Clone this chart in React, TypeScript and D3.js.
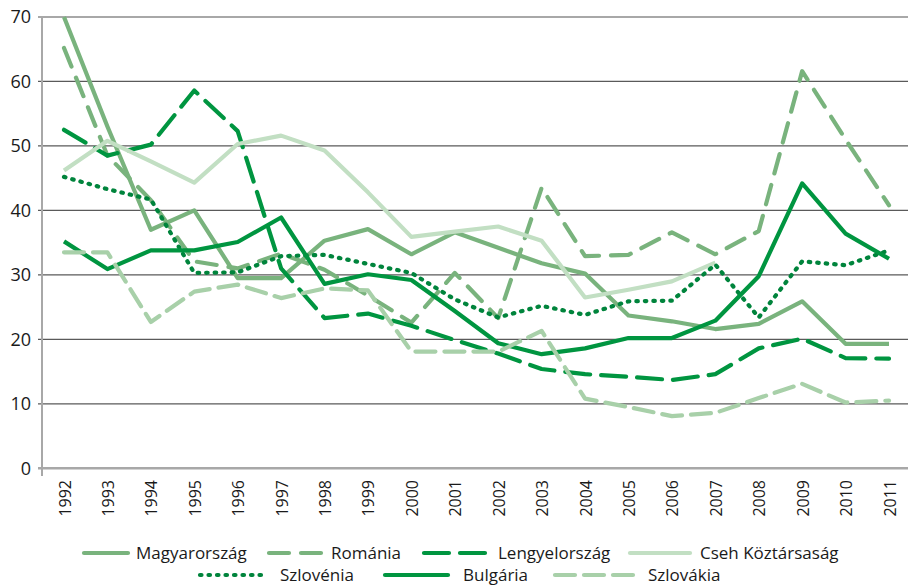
import React from "react";
import * as d3 from "d3";

// évek
const years = [
  "1992", "1993", "1994", "1995", "1996", "1997", "1998", "1999", "2000", "2001",
  "2002", "2003", "2004", "2005", "2006", "2007", "2008", "2009", "2010", "2011",
];

const magyarorszag = [70, 53, 37, 40, 29.5, 29.5, 35.3, 37.1, 33.2, 36.6, 34.2, 31.8, 30.2, 23.7, 22.8, 21.6, 22.4, 25.9, 19.3, 19.3];
const romania = [65.2, 48.5, 41.6, 32.1, 31, 33.3, 30.8, 26.8, 22.6, 30.3, 23.3, 43.5, 32.9, 33.1, 36.6, 33.2, 36.8, 61.6, 51, 40.8];
const lengyelorszag = [52.5, 48.5, 50.2, 58.6, 52.3, 31, 23.3, 24, 22.1, 19.9, 17.8, 15.4, 14.6, 14.2, 13.7, 14.6, 18.6, 20.1, 17.1, 17];
const cseh = [46.2, 50.8, 47.6, 44.3, 50.3, 51.6, 49.3, 42.8, 35.9, 36.7, 37.5, 35.3, 26.5, 27.7, 29, 31.9, null, null, null, null];
const szlovenia = [45.2, 43.3, 41.7, 30.3, 30.4, 32.9, 33.1, 31.7, 30.3, 26.2, 23.4, 25.2, 23.8, 25.9, 26, 31.6, 23.4, 32.1, 31.5, 33.8];
const bulgaria = [35.2, 30.9, 33.8, 33.8, 35.1, 38.9, 28.6, 30.1, 29.2, 24.4, 19.4, 17.7, 18.6, 20.2, 20.2, 22.9, 29.8, 44.2, 36.4, 32.5];
const szlovakia = [33.5, 33.5, 22.7, 27.4, 28.5, 26.4, 27.9, 27.6, 18.1, 18.1, 18.1, 21.3, 10.8, 9.5, 8.1, 8.6, 10.9, 13.1, 10.2, 10.5];

const yTicks = [0, 10, 20, 30, 40, 50, 60, 70];

const series = [
  { name: "Magyarország", values: magyarorszag, color: "#79b37d", dash: "none", cap: "butt", row: 0, lx: 84, lw: 44, tx: 136 },
  { name: "Románia", values: romania, color: "#79b37d", dash: "20 12", cap: "round", row: 0, lx: 269, lw: 54, tx: 331 },
  { name: "Lengyelország", values: lengyelorszag, color: "#009540", dash: "25 11", cap: "round", row: 0, lx: 424, lw: 66, tx: 498 },
  { name: "Cseh Köztársaság", values: cseh, color: "#c2dfc3", dash: "none", cap: "butt", row: 0, lx: 630, lw: 60, tx: 700 },
  { name: "Szlovénia", values: szlovenia, color: "#00843c", dash: "1.5 7", cap: "round", row: 1, lx: 200, lw: 66, tx: 280 },
  { name: "Bulgária", values: bulgaria, color: "#009540", dash: "none", cap: "butt", row: 1, lx: 385, lw: 63, tx: 463 },
  { name: "Szlovákia", values: szlovakia, color: "#a8d0a9", dash: "20 9", cap: "round", row: 1, lx: 555, lw: 78, tx: 648 },
];

const W = 908;
const H = 586;
const axisX = 42;
const font = "'Open Sans', 'Noto Sans', sans-serif";

export default function App() {
  const x = d3.scalePoint().domain(years).range([64, 889]);
  const y = d3.scaleLinear().domain([0, 70]).range([468.3, 17]);

  const line = d3
    .line<number | null>()
    .defined((v) => v != null)
    .x((_, i) => x(years[i]) as number)
    .y((v) => y(v as number));

  const rowY = [553, 575];

  return (
    <svg width={W} height={H} style={{ position: "absolute", left: 0, top: 0 }} fontFamily={font}>
      <rect width={W} height={H} fill="#fff" />

      {/* rácsvonalak */}
      {yTicks.map((t) => (
        <g key={t}>
          <line
            x1={axisX - 4}
            x2={W}
            y1={y(t)}
            y2={y(t)}
            stroke={t === 0 || t === 70 ? "#a8a8a8" : "#5a5a5a"}
            strokeWidth={t === 0 ? 2.4 : t === 70 ? 2 : 1.3}
          />
          <text x={31} y={y(t)} dy="0.36em" textAnchor="end" fontSize={18} fill="#1a1a1a">
            {t}
          </text>
        </g>
      ))}
      <line x1={axisX} x2={axisX} y1={y(70)} y2={476} stroke="#a8a8a8" strokeWidth={2} />

      {/* év feliratok */}
      {years.map((yr) => (
        <text
          key={yr}
          transform={`translate(${(x(yr) as number) + 6.5},480) rotate(-90)`}
          textAnchor="end"
          fontSize={16}
          fill="#1a1a1a"
        >
          {yr}
        </text>
      ))}

      {/* vonalak */}
      {series.map((s) => (
        <path
          key={s.name}
          d={line(s.values) || ""}
          fill="none"
          stroke={s.color}
          strokeWidth={4.2}
          strokeDasharray={s.dash}
          strokeLinecap={s.cap as any}
          strokeLinejoin="round"
        />
      ))}

      {/* jelmagyarázat */}
      {series.map((s) => (
        <g key={"lg" + s.name}>
          <line
            x1={s.lx}
            x2={s.lx + s.lw}
            y1={rowY[s.row]}
            y2={rowY[s.row]}
            stroke={s.color}
            strokeWidth={4.2}
            strokeDasharray={s.dash}
            strokeLinecap={s.cap === "butt" ? "round" : (s.cap as any)}
          />
          <text x={s.tx} y={rowY[s.row]} dy="0.36em" fontSize={17} fill="#1a1a1a">
            {s.name}
          </text>
        </g>
      ))}
    </svg>
  );
}
